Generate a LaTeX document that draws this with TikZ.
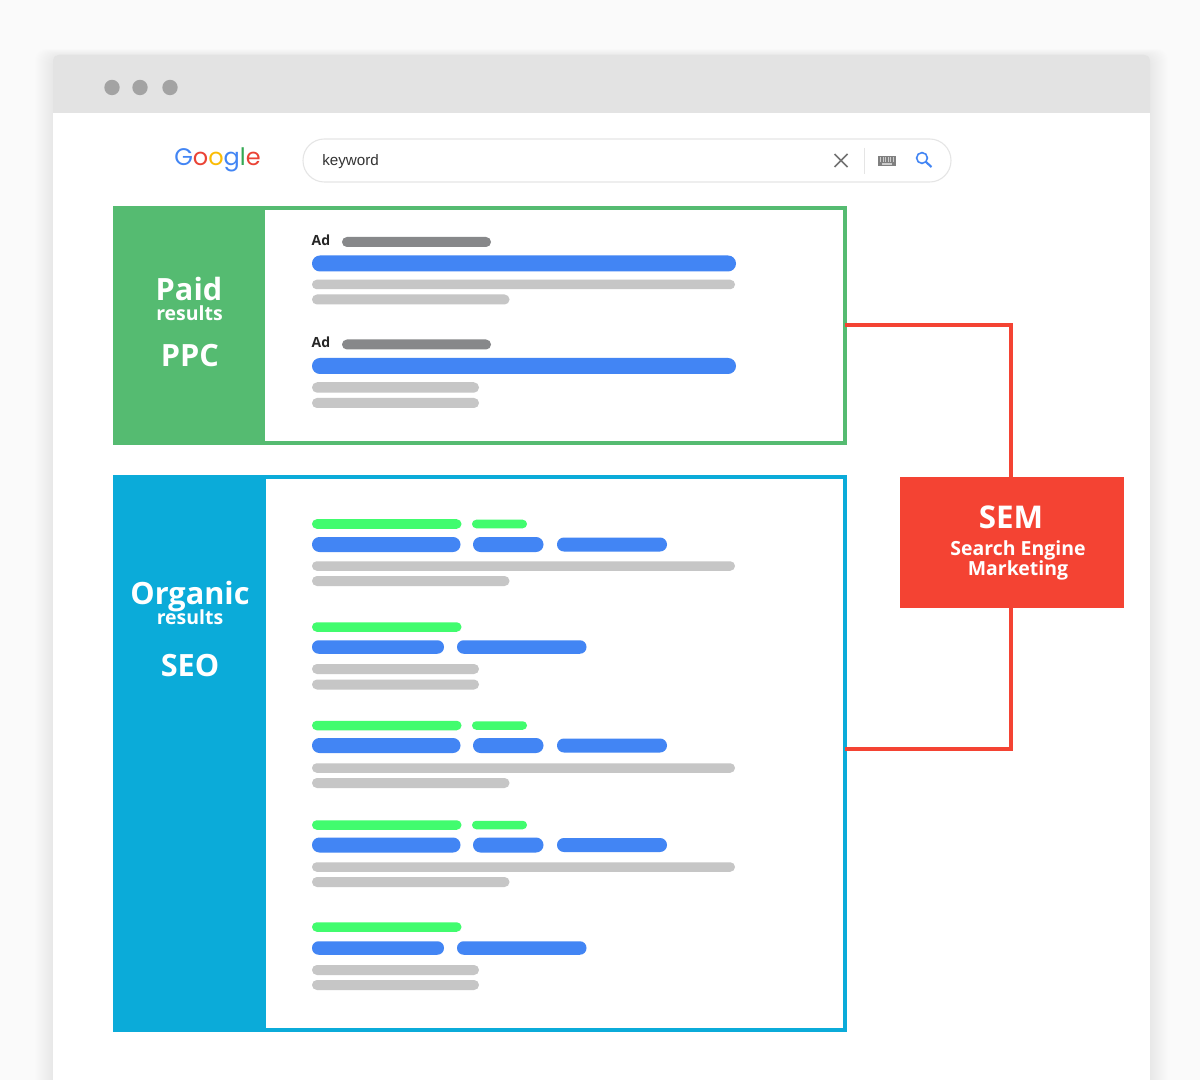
\documentclass[tikz,border=0pt]{standalone}
\usepackage{fontspec}
\setmainfont{Open Sans}
\newfontfamily\argfont{Liberation Sans}
\newfontfamily\logofont{Poppins}
\definecolor{pagebg}{HTML}{FAFAFA}
\definecolor{titlebar}{HTML}{E3E3E3}
\definecolor{dotgray}{HTML}{A3A3A3}
\definecolor{paidgreen}{HTML}{55BB71}
\definecolor{orgblue}{HTML}{0BABD9}
\definecolor{semred}{HTML}{F44333}
\definecolor{barblue}{HTML}{4285F4}
\definecolor{barlight}{HTML}{C6C6C6}
\definecolor{bardark}{HTML}{87888A}
\definecolor{bargreen}{HTML}{41FC6E}
\definecolor{gblue}{HTML}{4285F4}
\definecolor{gred}{HTML}{EA4335}
\definecolor{gyellow}{HTML}{FBBC05}
\definecolor{ggreen}{HTML}{34A853}
\tikzset{
  panelbox/.style={draw=#1,line width=3pt,fill=white,inner sep=0pt,outer sep=0pt},
  sidebox/.style={fill=#1},
  linkline/.style={draw=semred,line width=3pt},
  bigtext/.style={text=white,font=\bfseries\fontsize{23}{24}\selectfont,inner sep=0pt,anchor=center},
  smalltext/.style={text=white,font=\bfseries\fontsize{14.6}{14.25}\selectfont,inner sep=0pt,anchor=center,align=center},
  adtext/.style={text=black!85,font=\bfseries\fontsize{10.5}{12}\selectfont,inner sep=0pt,anchor=center},
}
% \barline{x1}{x2}{yc}{height}{colour}
\newcommand{\barline}[5]{\fill[#5,rounded corners=#4*0.37pt] (#1,#3-#4/2) rectangle (#2,#3+#4/2);}
\newcommand{\resultA}[4]{%
  \barline{312}{461.5}{#1}{9.5}{bargreen}\barline{472}{527}{#1}{8.5}{bargreen}
  \barline{312}{460.5}{#2}{15}{barblue}\barline{473}{543.5}{#2}{15}{barblue}\barline{557}{667}{#2}{14}{barblue}
  \barline{312}{735}{#3}{9.5}{barlight}\barline{312}{509.5}{#4}{10}{barlight}}
\newcommand{\resultB}[4]{%
  \barline{312}{461.5}{#1}{9.5}{bargreen}
  \barline{312}{444}{#2}{13.5}{barblue}\barline{457}{586.5}{#2}{13.5}{barblue}
  \barline{312}{479}{#3}{10}{barlight}\barline{312}{479}{#4}{10}{barlight}}
\begin{document}
\begin{tikzpicture}[x=0.75pt,y=-0.75pt]
\useasboundingbox (0,0) rectangle (1200,1080);
\fill[pagebg] (0,0) rectangle (1200,1080);
% soft window shadow
\foreach \s in {1,...,18}
  \fill[black,opacity=0.0035,rounded corners=8pt] (53-\s,56-\s*0.4) rectangle (1150+\s,1100);
% window
\fill[white] (53,100) rectangle (1150,1080);
\fill[titlebar,rounded corners=4pt] (53,55) rectangle (1150,120);
\fill[titlebar] (53,100) rectangle (1150,113.5);
\fill[white] (53,113.5) rectangle (1150,125);
\foreach \x in {112,140,170} \fill[dotgray] (\x,87.5) circle[radius=7.7];
% logo
\node[inner sep=0pt,anchor=center,font=\logofont\fontsize{18}{18}\selectfont] (logo) at (217.5,160)
 {\addfontfeature{LetterSpace=-3.5}\textcolor{gblue}{G}\textcolor{gred}{o}\textcolor{gyellow}{o}\textcolor{gblue}{g}\textcolor{ggreen}{l}\textcolor{gred}{e}};
% search box
\draw[draw=black!10,line width=0.8pt,fill=white,rounded corners=16pt] (303,139) rectangle (951,182);
\node[inner sep=0pt,anchor=west,text=black!80,font=\argfont\fontsize{11.4}{14}\selectfont] (kw) at (322,162) {keyword};
\draw[black!55,line width=1.3pt] (834.5,154) -- (847.5,167) (847.5,154) -- (834.5,167);
\draw[black!10,line width=0.7pt] (864,148) -- (864,174);
\fill[black!50] (878,156) rectangle (896,166.5);
\foreach \a in {880,882.5,885,887.5,890,892.5} \fill[white!80!black] (\a,157.5) rectangle (\a+1.4,162.5);
\fill[white!80!black] (882,163.3) rectangle (892,164.8);
\draw[barblue,line width=1.2pt] (922,158) circle[radius=5.4];
\draw[barblue,line width=1.6pt] (925.8,161.8) -- (931.5,167);
% paid panel
\node[panelbox=paidgreen,minimum width=547.5pt,minimum height=176.25pt] (paid) at (480,325.5) {};
\fill[sidebox=paidgreen] (113,206) rectangle (265,445);
\node[bigtext] (paidt) at (189,289) {Paid};
\node[smalltext] (paids) at (189.5,313) {results};
\node[bigtext] (ppc) at (190,356) {PPC};
\node[adtext] (ad1) at (321,240) {Ad};
\node[adtext] (ad2) at (321,342.5) {Ad};
\barline{342}{491}{242}{10}{bardark}
\barline{312}{736}{263.5}{16}{barblue}
\barline{312}{735}{284.5}{9.5}{barlight}
\barline{312}{509.5}{299.5}{10}{barlight}
\barline{342}{491}{344.5}{10}{bardark}
\barline{312}{736}{366}{16}{barblue}
\barline{312}{479}{387.5}{10.5}{barlight}
\barline{312}{479}{403}{10}{barlight}
% organic panel
\node[panelbox=orgblue,minimum width=547.5pt,minimum height=414.75pt] (organic) at (480,753.5) {};
\fill[sidebox=orgblue] (113,475) rectangle (266,1032);
\node[bigtext] (org) at (190,596.5) {Organic};
\node[smalltext] (orgs) at (190,617) {results};
\node[bigtext] (seo) at (190,666) {SEO};
\resultA{524}{544.5}{566}{581}
\resultB{627}{647}{669}{684.5}
\resultA{725.5}{745.5}{768}{783}
\resultA{825}{845}{867}{882}
\resultB{927}{948}{970}{985}
% SEM
\node[fill=semred,minimum width=168pt,minimum height=98.25pt,inner sep=0pt,outer sep=0pt] (sem) at (1012,542.5) {};
\node[text=white,font=\bfseries\fontsize{23.5}{24}\selectfont,inner sep=0pt] (semt) at (1011,517) {SEM};
\node[smalltext] (semd) at (1018,560.5) {Search Engine\\[-1pt]Marketing};
% connectors
\coordinate (pa) at (845,325);
\coordinate (oa) at (845,748.5);
\coordinate (sn) at (1011,477);
\coordinate (ss) at (1011,608);
\draw[linkline] (pa) -| (sn);
\draw[linkline] (ss) |- (oa);
\end{tikzpicture}
\end{document}
